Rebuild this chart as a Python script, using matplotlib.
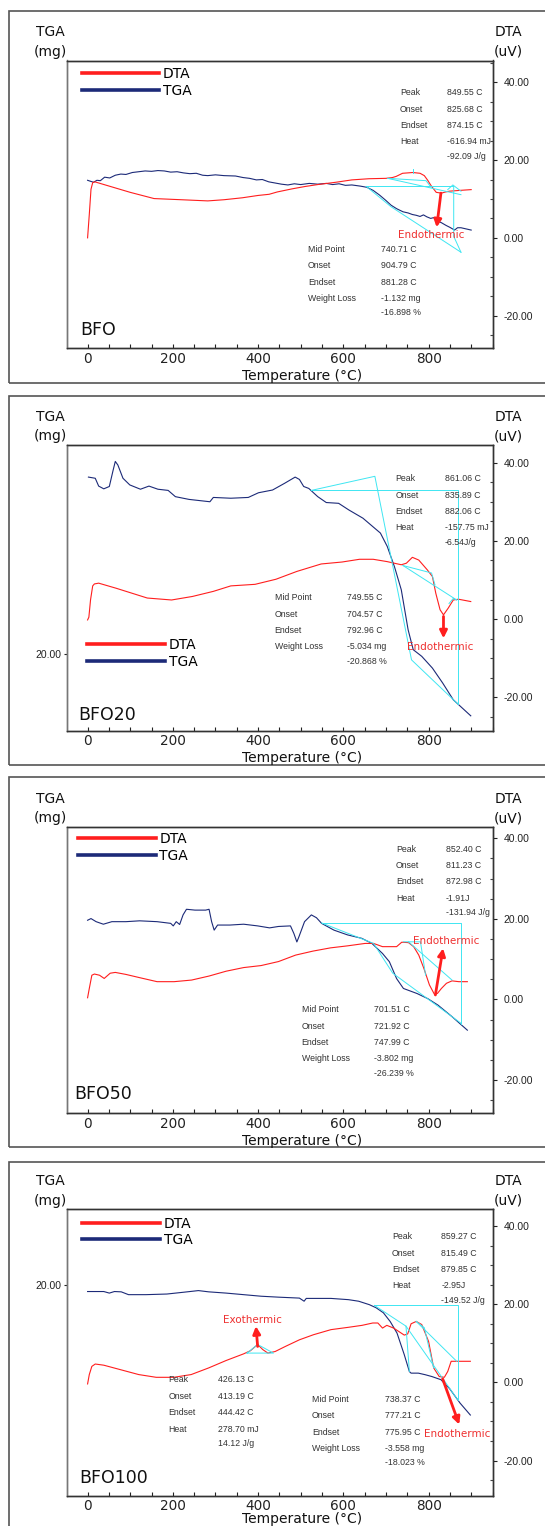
import matplotlib
matplotlib.use("Agg")
import matplotlib.pyplot as plt
from matplotlib.patches import Rectangle
from matplotlib.ticker import FixedLocator, MultipleLocator, FormatStrFormatter

W, H = 545, 1526
RED = '#ff1e1e'
NAVY = '#1c2a78'
CYAN = '#3ee6f2'
TXT = '#333333'
SMALL = 'Liberation Sans'

# ---- BFO ----
bfo_dta_t = [0, 4, 8, 12, 17, 60, 100, 156, 220, 282, 320, 363, 400, 426, 445, 480, 510, 540,
             583, 620, 660, 700, 715, 724, 739, 763, 780, 790, 798, 806, 818, 830, 840, 849, 873, 900]
bfo_dta = [0.0, 6.0, 12.5, 14.2, 14.4, 13.0, 11.7, 10.1, 9.8, 9.5, 9.8, 10.3, 10.9, 11.2, 11.8, 12.6,
           13.2, 13.7, 14.3, 14.9, 15.2, 15.3, 15.5, 15.8, 16.6, 16.8, 16.6, 16.0, 14.8, 13.4, 11.7,
           11.5, 11.8, 12.0, 12.2, 12.4]
bfo_tga_t = [0, 8, 14, 22, 30, 40, 52, 65, 78, 90, 105, 120, 135, 150, 165, 180, 195, 210, 225, 240,
             255, 270, 282, 300, 320, 347, 365, 380, 396, 410, 425, 440, 455, 470, 485, 500, 520, 540,
             560, 575, 590, 605, 620, 640, 655, 670, 685, 700, 712, 725, 740, 752, 762, 771, 780, 788,
             796, 805, 812, 820, 830, 841, 850, 861, 868, 876, 888, 900]
bfo_tga = [6.70, 6.67, 6.65, 6.70, 6.69, 6.78, 6.76, 6.83, 6.86, 6.85, 6.90, 6.92, 6.94, 6.93, 6.95,
           6.94, 6.91, 6.92, 6.89, 6.87, 6.88, 6.83, 6.82, 6.84, 6.82, 6.81, 6.77, 6.75, 6.71, 6.72,
           6.66, 6.63, 6.60, 6.58, 6.61, 6.59, 6.62, 6.60, 6.62, 6.59, 6.61, 6.57, 6.58, 6.55, 6.52,
           6.44, 6.32, 6.18, 6.06, 5.97, 5.89, 5.86, 5.82, 5.80, 5.77, 5.81, 5.76, 5.72, 5.74, 5.66,
           5.61, 5.54, 5.49, 5.42, 5.48, 5.48, 5.45, 5.42]
bfo_cyan = [([654, 859, 859, 876], [13.2, 13.2, 0.4, -3.7]),
            ([654, 712, 876], [13.2, 8.0, -3.7]),
            ([704, 876], [15.3, 11.1]),
            ([704, 794, 806], [15.3, 14.7, 13.0]),
            ([763, 763], [16.8, 17.6]),
            ([845, 857, 876], [12.4, 13.6, 12.0])]

# ---- BFO20 ----
bfo20_dta_t = [0, 3, 7, 12, 16, 26, 67, 140, 197, 246, 295, 336, 393, 442, 491, 548, 597, 638, 670,
               703, 736, 748, 762, 777, 797, 809, 817, 827, 835, 846, 858, 870, 899]
bfo20_dta = [-0.2, 0.5, 5.0, 8.5, 9.0, 9.2, 7.9, 5.4, 4.9, 5.8, 7.1, 8.5, 8.9, 10.2, 12.2, 14.1, 14.6,
             15.3, 15.3, 14.7, 13.9, 14.3, 15.8, 15.1, 12.6, 10.9, 6.6, 2.4, 1.1, 2.8, 4.9, 5.1, 4.5]
bfo20_tga_t = [2, 18, 26, 38, 51, 60, 65, 71, 83, 99, 124, 144, 165, 189, 206, 238, 287, 295, 336,
               377, 401, 434, 462, 487, 497, 507, 519, 540, 560, 589, 613, 646, 674, 687, 703, 720,
               736, 752, 764, 784, 809, 833, 858, 899]
bfo20_tga = [24.52, 24.49, 24.29, 24.22, 24.28, 24.70, 24.92, 24.83, 24.49, 24.32, 24.21, 24.29,
             24.21, 24.18, 24.02, 23.95, 23.89, 24.00, 23.98, 24.00, 24.12, 24.19, 24.36, 24.52,
             24.46, 24.28, 24.23, 24.02, 23.87, 23.85, 23.68, 23.47, 23.21, 23.09, 22.75, 22.23,
             21.64, 20.62, 20.11, 19.94, 19.64, 19.26, 18.83, 18.42]
bfo20_cyan = [([525, 868, 868], [32.9, 32.9, -21.6]),
              ([525, 674, 760, 868], [32.9, 36.5, -10.4, -21.6]),
              ([740, 866], [13.7, 4.9]),
              ([740, 807, 815], [13.7, 11.8, 8.8]),
              ([848, 858, 866], [4.0, 5.3, 4.9])]

# ---- BFO50 ----
bfo50_dta_t = [0, 4, 10, 16, 28, 39, 53, 65, 90, 122, 163, 203, 244, 285, 325, 366, 407, 448, 488,
               529, 570, 610, 651, 671, 692, 725, 737, 753, 765, 777, 789, 802, 814, 821, 830, 842,
               855, 871, 891]
bfo50_dta = [0.4, 2.7, 6.0, 6.3, 6.0, 5.2, 6.5, 6.7, 6.2, 5.4, 4.4, 4.4, 4.8, 5.8, 7.0, 7.9, 8.4, 9.4,
             11.0, 12.0, 12.8, 13.3, 13.9, 13.9, 13.1, 13.1, 14.2, 14.1, 13.1, 11.0, 7.7, 3.6, 1.2,
             1.5, 2.7, 4.0, 4.6, 4.4, 4.4]
bfo50_tga_t = [0, 8, 20, 37, 57, 90, 122, 163, 195, 201, 208, 216, 224, 232, 252, 277, 285, 291, 297,
               305, 334, 366, 399, 427, 448, 476, 484, 491, 496, 509, 525, 537, 549, 578, 610, 643,
               667, 692, 708, 725, 741, 773, 798, 822, 855, 891]
bfo50_tga = [14.51, 14.57, 14.46, 14.37, 14.46, 14.46, 14.49, 14.46, 14.40, 14.31, 14.46, 14.36,
             14.70, 14.90, 14.87, 14.87, 14.90, 14.46, 14.16, 14.34, 14.34, 14.37, 14.31, 14.24,
             14.29, 14.31, 14.04, 13.74, 13.93, 14.46, 14.70, 14.60, 14.40, 14.16, 13.99, 13.87,
             13.69, 13.33, 13.04, 12.44, 12.09, 11.91, 11.73, 11.50, 11.09, 10.61]
bfo50_cyan = [([549, 877, 877], [19.0, 19.0, -6.0]),
              ([549, 671, 716, 877], [19.0, 13.9, 6.5, -6.0]),
              ([741, 781, 793], [14.3, 14.3, 6.0]),
              ([753, 855], [14.3, 4.8])]

# ---- BFO100 ----
bfo100_dta_t = [0, 4, 10, 18, 38, 79, 120, 161, 202, 243, 284, 325, 366, 382, 399, 411, 423, 440,
                464, 497, 530, 571, 612, 644, 669, 681, 692, 702, 718, 743, 751, 759, 771, 784, 800,
                812, 825, 837, 845, 853, 866, 898]
bfo100_dta = [-0.4, 2.0, 4.1, 4.7, 4.4, 3.2, 2.0, 1.3, 1.3, 2.0, 3.7, 5.6, 7.3, 8.1, 9.7, 8.4, 7.5,
              7.9, 9.2, 10.9, 12.2, 13.5, 14.1, 14.6, 15.2, 15.2, 13.9, 14.6, 13.9, 12.1, 12.4, 15.0,
              15.6, 14.8, 10.5, 3.7, 1.5, 1.3, 2.8, 5.4, 5.4, 5.4]
bfo100_tga_t = [0, 38, 51, 63, 79, 96, 137, 186, 227, 260, 284, 325, 366, 407, 448, 497, 508, 513,
                571, 612, 636, 661, 677, 694, 710, 726, 743, 755, 759, 776, 792, 808, 829, 849, 874, 898]
bfo100_tga = [19.78, 19.78, 19.73, 19.78, 19.77, 19.68, 19.68, 19.70, 19.76, 19.81, 19.77, 19.73,
              19.68, 19.63, 19.60, 19.57, 19.47, 19.56, 19.56, 19.52, 19.47, 19.36, 19.26, 19.10,
              18.82, 18.45, 17.76, 17.22, 17.17, 17.17, 17.12, 17.06, 16.96, 16.68, 16.21, 15.83]
bfo100_cyan = [([673, 868, 868], [19.7, 19.7, -4.4]),
               ([673, 747, 755], [19.7, 14.4, 2.8]),
               ([747, 868], [14.4, -4.4]),
               ([771, 866], [15.6, 5.4]),
               ([771, 790, 812], [15.6, 14.0, 3.7]),
               ([374, 399, 436, 374], [7.5, 9.7, 7.5, 7.5])]

heat_labels = ['Peak', 'Onset', 'Endset', 'Heat']
loss_labels = ['Mid Point', 'Onset', 'Endset', 'Weight Loss']

panels = [
    dict(name='BFO', dta_t=bfo_dta_t, dta=bfo_dta, tga_t=bfo_tga_t, tga=bfo_tga, cyan=bfo_cyan,
         box=(11, 382.7), ax_y=(60.5, 348.3), dta_lim=(-28.4, 45.6), tga_lim=(2.38, 9.78),
         leg=(81.7, 76.7), name_xy=(80, 330),
         blocks=[(heat_labels, ['849.55 C', '825.68 C', '874.15 C', '-616.94 mJ'], '-92.09 J/g', (400, 447, 92.7)),
                 (loss_labels, ['740.71 C', '904.79 C', '881.28 C', '-1.132 mg'], '-16.898 %', (308, 381, 249.3))],
         arrows=[('Endothermic', (431, 235), (829, 11.5), (819, 2.7))]),
    dict(name='BFO20', dta_t=bfo20_dta_t, dta=bfo20_dta, tga_t=bfo20_tga_t, tga=bfo20_tga, cyan=bfo20_cyan,
         box=(396, 765), ax_y=(445, 730.7), dta_lim=(-28.5, 44.5), tga_lim=(18.04, 25.34),
         leg=(87.3, 647.3), name_xy=(78.3, 715),
         blocks=[(heat_labels, ['861.06 C', '835.89 C', '882.06 C', '-157.75 mJ'], '-6.54J/g', (395.2, 445, 478.7)),
                 (loss_labels, ['749.55 C', '704.57 C', '792.96 C', '-5.034 mg'], '-20.868 %', (274.6, 347, 597.7))],
         arrows=[('Endothermic', (439.7, 646.7), (835, 0.7), (835, -4.9))]),
    dict(name='BFO50', dta_t=bfo50_dta_t, dta=bfo50_dta, tga_t=bfo50_tga_t, tga=bfo50_tga, cyan=bfo50_cyan,
         box=(777.3, 1147.3), ax_y=(826.7, 1113.3), dta_lim=(-28.3, 42.9), tga_lim=(7.66, 17.83),
         leg=(78, 841.7), name_xy=(74.7, 1094.3),
         blocks=[(heat_labels, ['852.40 C', '811.23 C', '872.98 C', '-1.91J'], '-131.94 J/g', (396, 446, 849)),
                 (loss_labels, ['701.51 C', '721.92 C', '747.99 C', '-3.802 mg'], '-26.239 %', (301.7, 374.3, 1009.7))],
         arrows=[('Endothermic', (446.6, 940.7), (816, 1.1), (834, 12.7))]),
    dict(name='BFO100', dta_t=bfo100_dta_t, dta=bfo100_dta, tga_t=bfo100_tga_t, tga=bfo100_tga, cyan=bfo100_cyan,
         box=(1161.7, 1540), ax_y=(1209.3, 1495.7), dta_lim=(-29.0, 44.3), tga_lim=(13.25, 22.41),
         leg=(82.4, 1226), name_xy=(79, 1477.7),
         blocks=[(heat_labels, ['859.27 C', '815.49 C', '879.85 C', '-2.95J'], '-149.52 J/g', (392, 441.4, 1236.7)),
                 (heat_labels, ['426.13 C', '413.19 C', '444.42 C', '278.70 mJ'], '14.12 J/g', (168.6, 218.3, 1380)),
                 (loss_labels, ['738.37 C', '777.21 C', '775.95 C', '-3.558 mg'], '-18.023 %', (312.1, 384.8, 1399.3))],
         arrows=[('Endothermic', (457, 1434.3), (833, 0.9), (872, -10.8)),
                 ('Exothermic', (252.7, 1320), (399, 9.2), (395, 14.4))]),
]


def P(x, y):
    return x / W, 1 - y / H


fig = plt.figure(figsize=(W / 100, H / 100), dpi=100)
AX_L, AX_R = 66.7, 492.5

for p in panels:
    btop, bbot = p['box']
    fig.add_artist(Rectangle(P(9.3, bbot), (547 - 9.3) / W, (bbot - btop) / H,
                             transform=fig.transFigure, fill=False, ec='#555555', lw=1.2))
    top, bot = p['ax_y']
    ax = fig.add_axes([AX_L / W, 1 - bot / H, (AX_R - AX_L) / W, (bot - top) / H])
    axr = ax.twinx()

    l_tga, = ax.plot(p['tga_t'], p['tga'], color=NAVY, lw=0.8)
    l_dta, = axr.plot(p['dta_t'], p['dta'], color=RED, lw=0.8)
    for cx, cy in p['cyan']:
        axr.plot(cx, cy, color=CYAN, lw=0.7)

    ax.set_xlim(-49, 950)
    ax.set_ylim(*p['tga_lim'])
    axr.set_ylim(*p['dta_lim'])

    ax.xaxis.set_major_locator(MultipleLocator(200))
    ax.xaxis.set_minor_locator(MultipleLocator(50))
    ax.tick_params(axis='x', which='both', direction='in', length=3, width=0.8, pad=2.5,
                   labelsize=9.8, colors='#222222')
    lo, hi = p['tga_lim']
    ax.yaxis.set_major_locator(FixedLocator([v for v in (0, 20, 40) if lo < v < hi]))
    ax.yaxis.set_major_formatter(FormatStrFormatter('%.2f'))
    ax.tick_params(axis='y', direction='out', length=2.5, width=0.8, pad=1, labelsize=7.5,
                   labelfontfamily=SMALL, colors='#222222')

    axr.yaxis.set_major_locator(FixedLocator([-20, 0, 20, 40]))
    axr.yaxis.set_minor_locator(MultipleLocator(5))
    axr.yaxis.set_major_formatter(FormatStrFormatter('%.2f'))
    axr.tick_params(axis='y', which='major', direction='out', length=3, width=0.8, pad=5,
                    labelsize=7.5, labelfontfamily=SMALL, colors='#222222')
    axr.tick_params(axis='y', which='minor', direction='in', length=2, width=0.8, colors='#444444')

    for a in (ax, axr):
        for s in a.spines.values():
            s.set_color('#333333')
            s.set_linewidth(1.0)
        a.spines['left'].set_color('#777777')

    leg = axr.legend([l_dta, l_tga], ['DTA', 'TGA'], loc='upper left',
                     bbox_to_anchor=P(p['leg'][0], p['leg'][1] - 9.5), bbox_transform=fig.transFigure,
                     frameon=False, borderpad=0, borderaxespad=0, handlelength=5.6,
                     handletextpad=0.25, labelspacing=0.2, fontsize=10)
    for h in leg.get_lines():
        h.set_linewidth(2.6)

    for labels, values, extra, (lx, vx, y0) in p['blocks']:
        for i, (lab, val) in enumerate(zip(labels, values)):
            fig.text(*P(lx, y0 + i * 16.4), lab, fontsize=6.3, family=SMALL, color=TXT, va='center')
            fig.text(*P(vx, y0 + i * 16.4), val, fontsize=6.3, family=SMALL, color=TXT, va='center')
        fig.text(*P(vx, y0 + 3 * 16.4 + 14.3), extra, fontsize=6.3, family=SMALL, color=TXT, va='center')

    for txt, (tx, ty), tail, head in p['arrows']:
        axr.annotate('', xy=head, xytext=tail,
                     arrowprops=dict(arrowstyle='-|>', color=RED, lw=2.0, mutation_scale=11,
                                     shrinkA=0, shrinkB=0))
        fig.text(*P(tx, ty), txt, fontsize=7.5, color='#ee3030', ha='center', va='center')

    fig.text(*P(p['name_xy'][0], p['name_xy'][1]), p['name'], fontsize=12.5, color='#111111', va='center')
    fig.text(*P(50, top - 28), 'TGA', fontsize=10, ha='center', va='center', color='#111111')
    fig.text(*P(50, top - 8.7), '(mg)', fontsize=10, ha='center', va='center', color='#111111')
    fig.text(*P(508, top - 28), 'DTA', fontsize=10, ha='center', va='center', color='#111111')
    fig.text(*P(508, top - 8.7), '(uV)', fontsize=10, ha='center', va='center', color='#111111')
    fig.text(*P(302, min(bot + 27.7, 1519)), 'Temperature (°C)', fontsize=10, ha='center', va='center',
             color='#111111')

fig.savefig('out.png', dpi=100)
